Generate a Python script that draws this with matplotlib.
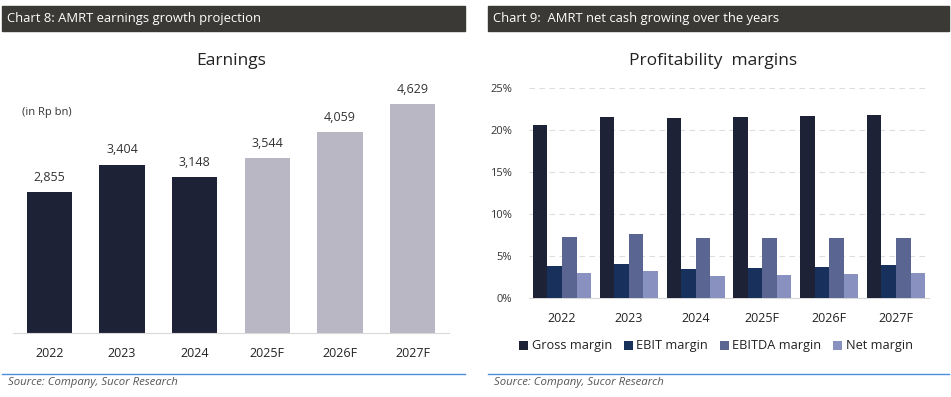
import matplotlib
matplotlib.use("Agg")
import matplotlib.pyplot as plt
import numpy as np
from matplotlib.patches import Rectangle
from matplotlib.lines import Line2D

plt.rcParams['font.family'] = ['Open Sans', 'DejaVu Sans']

# ---- data ----
years = ["2022", "2023", "2024", "2025F", "2026F", "2027F"]
earnings = [2855, 3404, 3148, 3544, 4059, 4629]
forecast = [False, False, False, True, True, True]

margin_names = ["Gross margin", "EBIT margin", "EBITDA margin", "Net margin"]
gross_margin = [20.6, 21.5, 21.4, 21.5, 21.7, 21.8]
ebit_margin = [3.85, 4.1, 3.4, 3.55, 3.7, 3.9]
ebitda_margin = [7.3, 7.6, 7.1, 7.1, 7.15, 7.15]
net_margin = [2.95, 3.2, 2.65, 2.75, 2.9, 3.0]
margin_ticks = [0, 5, 10, 15, 20, 25]

W, H = 951, 397
fig = plt.figure(figsize=(W / 100, H / 100), dpi=100)


def px_axes(x0, y0, x1, y1, **kw):
    return fig.add_axes([x0 / W, 1 - y1 / H, (x1 - x0) / W, (y1 - y0) / H], **kw)


def frac(x, y):
    return x / W, 1 - y / H


HEADER = "#3b3936"
BLUE_LINE = "#4a8fdc"
DARK = "#1e2236"
LIGHT = "#b8b7c3"

# headers
for (x0, x1, txt) in [(2, 465, "Chart 8: AMRT earnings growth projection"),
                      (488, 949, "Chart 9:  AMRT net cash growing over the years")]:
    fig.patches.append(Rectangle(frac(x0, 31), (x1 - x0) / W, 25 / H,
                                 transform=fig.transFigure, color=HEADER, zorder=0))
    fig.text(*frac(x0 + 5, 18.5), txt, color="white", fontsize=9.4, va="center", ha="left")
    # blue separator line & source
    fig.lines.append(Line2D([x0 / W, x1 / W], [1 - 374 / H] * 2, transform=fig.transFigure,
                            color=BLUE_LINE, lw=1))
    fig.text(*frac(x0 + 6, 383), "Source: Company, Sucor Research", color="#555555",
             fontsize=8.2, style="italic", va="center", ha="left")

# ---- left chart ----
ax1 = px_axes(13, 86, 449, 333)
x = np.arange(len(years))
colors = [LIGHT if f else DARK for f in forecast]
bars = ax1.bar(x, earnings, width=0.62, color=colors)
for xi, v in zip(x, earnings):
    ax1.text(xi, v + 170, f"{v:,}", ha="center", va="bottom", fontsize=9, color="#333333")
ax1.set_xlim(-0.5, 5.5)
ax1.set_ylim(0, 5000)
ax1.set_yticks([])
ax1.set_xticks(x)
ax1.set_xticklabels(years, fontsize=9, color="#222222")
ax1.tick_params(axis="x", length=0, pad=10)
for s in ["top", "right", "left"]:
    ax1.spines[s].set_visible(False)
ax1.spines["bottom"].set_color("#d9d9d9")
ax1.patch.set_alpha(0)
fig.text(*frac(231, 61), "Earnings", fontsize=12.5, ha="center", va="center", color="#222222")
fig.text(*frac(22, 112), "(in Rp bn)", fontsize=8, ha="left", va="center", color="#333333")

# ---- right chart ----
ax2 = px_axes(528.6, 88, 929.4, 298)
mcolors = ["#1e2236", "#17305c", "#5a6592", "#8891c0"]
series = [gross_margin, ebit_margin, ebitda_margin, net_margin]
bw = 0.87 / 4
for i, (name, vals, c) in enumerate(zip(margin_names, series, mcolors)):
    ax2.bar(x + (i - 1.5) * bw, vals, width=bw, color=c, label=name, zorder=3)
ax2.set_xlim(-0.5, 5.5)
ax2.set_ylim(0, 25)
ax2.set_yticks(margin_ticks)
ax2.set_yticklabels([f"{t}%" for t in margin_ticks], fontsize=8, color="#333333")
ax2.yaxis.grid(True, color="#dddddd", linestyle=(0, (5, 4)), lw=0.8, zorder=0)
ax2.set_xticks(x)
ax2.set_xticklabels(years, fontsize=9, color="#222222")
ax2.tick_params(axis="x", length=0, pad=10)
ax2.tick_params(axis="y", length=0, pad=12)
for s in ["top", "right", "left"]:
    ax2.spines[s].set_visible(False)
ax2.spines["bottom"].set_color("#d9d9d9")
ax2.set_axisbelow(True)
fig.text(*frac(713, 61), "Profitability  margins", fontsize=12.5, ha="center", va="center",
         color="#222222")
leg = ax2.legend(loc="center", bbox_to_anchor=((716 - 528.6) / (929.4 - 528.6), -(346 - 298) / 210),
                 ncol=4, frameon=False, fontsize=9.2, handlelength=0.7, handleheight=0.7,
                 handletextpad=0.3, columnspacing=0.9)
for t in leg.get_texts():
    t.set_color("#222222")

fig.savefig("out.png", dpi=100)
